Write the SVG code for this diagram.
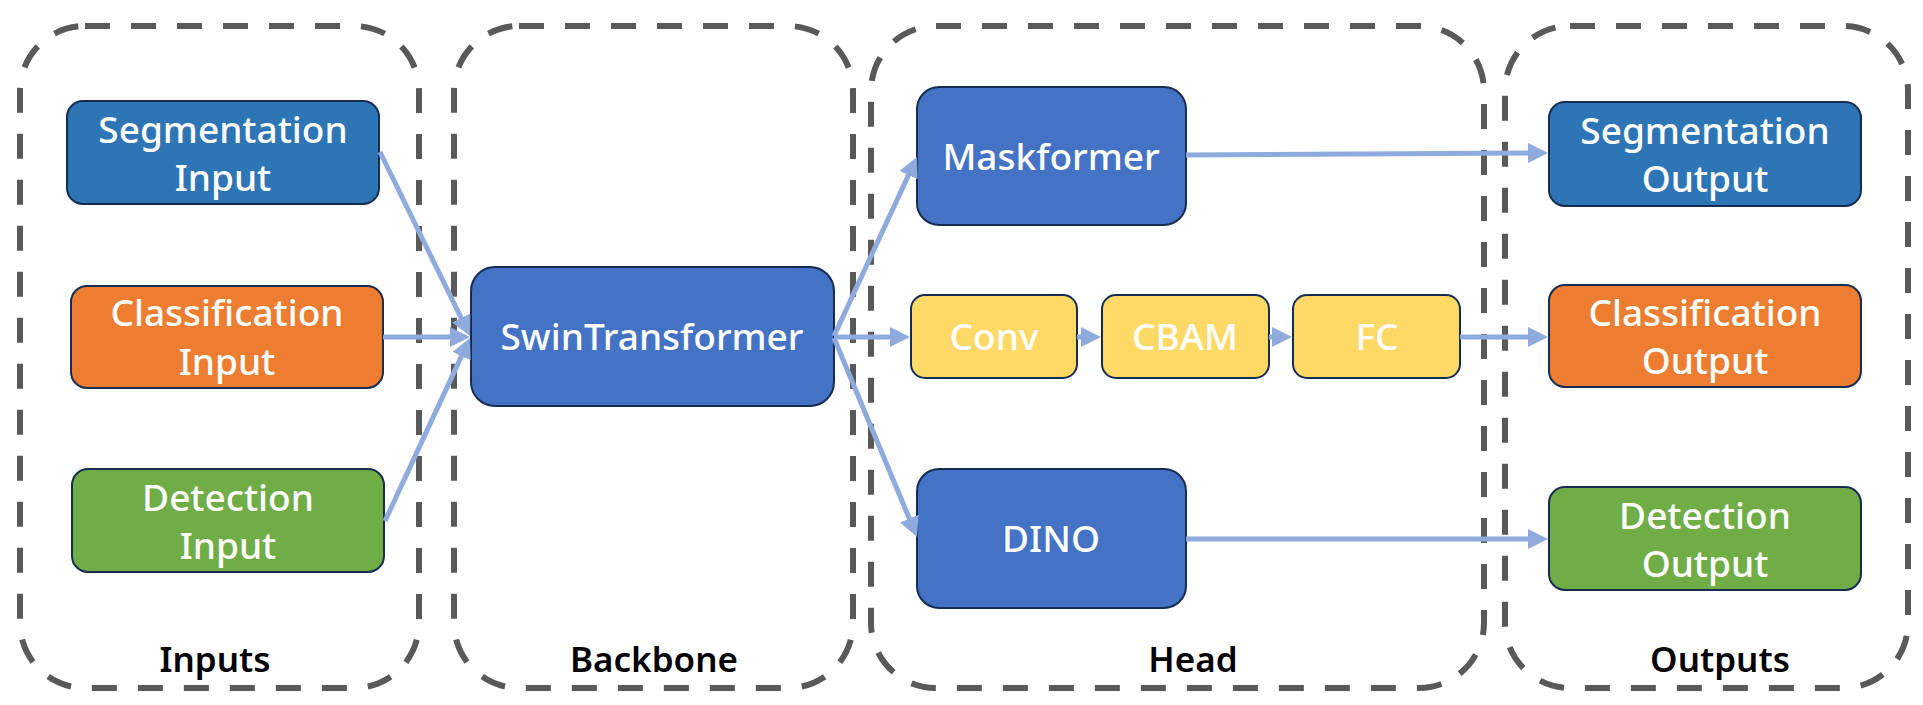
<svg xmlns="http://www.w3.org/2000/svg" width="1923" height="705" viewBox="0 0 1923 705">
  <defs>
    <marker id="arr" viewBox="0 0 20 20" refX="3" refY="10" markerWidth="20" markerHeight="20" markerUnits="userSpaceOnUse" orient="auto">
      <path d="M0,0 L20,10 L0,20 z" fill="#8FAADC"/>
    </marker>
    <style>
      .grp { fill: none; stroke: #595959; stroke-width: 6; stroke-dasharray: 25 21; }
      .glabel { font-family: "Noto Sans", "Liberation Sans", sans-serif; font-size: 35px; font-weight: 600; fill: #000; text-anchor: middle; }
      .node { stroke: #172C51; stroke-width: 2; }
      .t { font-family: "Noto Sans", "Liberation Sans", sans-serif; font-size: 37px; font-weight: 500; fill: #fff; text-anchor: middle; }
      .seg { fill: #2E75B6; }
      .cls { fill: #ED7D31; }
      .det { fill: #70AD47; }
      .blue { fill: #4472C4; }
      .yel { fill: #FFD966; }
      .conn line { stroke: #8FAADC; stroke-width: 5; marker-end: url(#arr); }
    </style>
  </defs>
  <rect width="1923" height="705" fill="#fff"/>

  <g id="group-inputs">
    <rect class="grp" x="20" y="26" width="399" height="662" rx="65" ry="65"/>
    <text class="glabel" x="215" y="672">Inputs</text>
  </g>
  <g id="group-backbone">
    <rect class="grp" x="454" y="26" width="399" height="662" rx="65" ry="65"/>
    <text class="glabel" x="654" y="672">Backbone</text>
  </g>
  <g id="group-head">
    <rect class="grp" x="871" y="26" width="613" height="662" rx="65" ry="65"/>
    <text class="glabel" x="1193" y="672">Head</text>
  </g>
  <g id="group-outputs">
    <rect class="grp" x="1505" y="26" width="403" height="662" rx="65" ry="65"/>
    <text class="glabel" x="1720" y="672">Outputs</text>
  </g>

  <g id="seg-input">
    <rect class="node seg" x="67" y="101" width="312" height="103" rx="16"/>
    <text class="t" x="223" y="143">Segmentation</text>
    <text class="t" x="223" y="191">Input</text>
  </g>
  <g id="cls-input">
    <rect class="node cls" x="71" y="286" width="312" height="102" rx="16"/>
    <text class="t" x="227" y="326">Classification</text>
    <text class="t" x="227" y="375">Input</text>
  </g>
  <g id="det-input">
    <rect class="node det" x="72" y="469" width="312" height="103" rx="16"/>
    <text class="t" x="228" y="511">Detection</text>
    <text class="t" x="228" y="559">Input</text>
  </g>

  <g id="swin">
    <rect class="node blue" x="471" y="267" width="363" height="139" rx="24"/>
    <text class="t" x="652" y="350">SwinTransformer</text>
  </g>

  <g id="maskformer">
    <rect class="node blue" x="917" y="87" width="269" height="138" rx="22"/>
    <text class="t" x="1051" y="170">Maskformer</text>
  </g>
  <g id="conv">
    <rect class="node yel" x="911" y="295" width="166" height="83" rx="14"/>
    <text class="t" x="994" y="350">Conv</text>
  </g>
  <g id="cbam">
    <rect class="node yel" x="1102" y="295" width="167" height="83" rx="14"/>
    <text class="t" x="1185" y="350">CBAM</text>
  </g>
  <g id="fc">
    <rect class="node yel" x="1293" y="295" width="167" height="83" rx="14"/>
    <text class="t" x="1377" y="350">FC</text>
  </g>
  <g id="dino">
    <rect class="node blue" x="917" y="469" width="269" height="139" rx="22"/>
    <text class="t" x="1051" y="552">DINO</text>
  </g>

  <g id="seg-output">
    <rect class="node seg" x="1549" y="102" width="312" height="104" rx="16"/>
    <text class="t" x="1705" y="144">Segmentation</text>
    <text class="t" x="1705" y="192">Output</text>
  </g>
  <g id="cls-output">
    <rect class="node cls" x="1549" y="285" width="312" height="102" rx="16"/>
    <text class="t" x="1705" y="326">Classification</text>
    <text class="t" x="1705" y="374">Output</text>
  </g>
  <g id="det-output">
    <rect class="node det" x="1549" y="487" width="312" height="103" rx="16"/>
    <text class="t" x="1705" y="529">Detection</text>
    <text class="t" x="1705" y="577">Output</text>
  </g>

  <g id="connectors" class="conn">
    <line x1="380" y1="152" x2="462.5" y2="320.7"/>
    <line x1="383" y1="337" x2="453" y2="337"/>
    <line x1="385" y1="521" x2="462.8" y2="353.4"/>
    <line x1="834" y1="336" x2="909.8" y2="172.4"/>
    <line x1="834" y1="337" x2="893" y2="337"/>
    <line x1="834" y1="338" x2="910.5" y2="521.3"/>
    <line x1="1077" y1="337" x2="1084" y2="337"/>
    <line x1="1269" y1="337" x2="1275" y2="337"/>
    <line x1="1460" y1="337" x2="1531" y2="337"/>
    <line x1="1186" y1="155" x2="1531" y2="153"/>
    <line x1="1186" y1="539" x2="1531" y2="539"/>
  </g>
</svg>
